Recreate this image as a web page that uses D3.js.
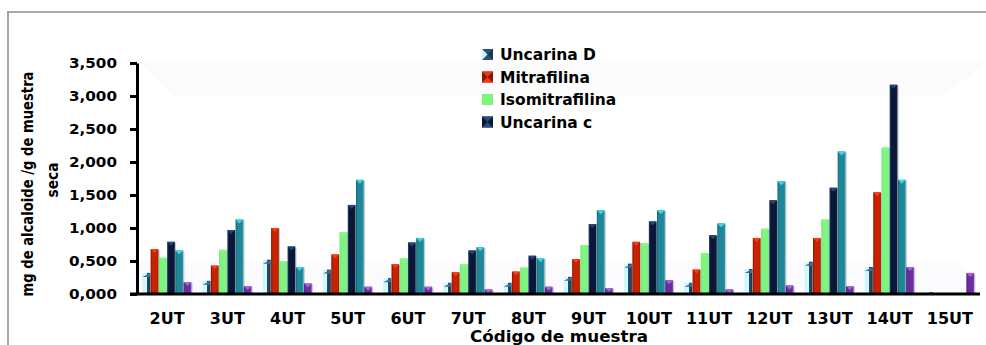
<!DOCTYPE html>
<html>
<head>
<meta charset="utf-8">
<script src="https://cdn.jsdelivr.net/npm/d3@7/dist/d3.min.js"></script>
<style>
  html, body { margin: 0; padding: 0; background: #fff; }
  svg { display: block; }
  text { font-family: "DejaVu Sans", Verdana, sans-serif; font-weight: bold; fill: #000; }
</style>
</head>
<body>
<svg id="chart" width="986" height="345"></svg>
<script>
// Sample codes
const categories = ["2UT","3UT","4UT","5UT","6UT","7UT","8UT","9UT","10UT","11UT","12UT","13UT","14UT","15UT"];

// mg of alkaloid per g of dry sample
const uncarinaD      = [0.32,0.20,0.52,0.37,0.24,0.17,0.17,0.26,0.46,0.17,0.38,0.49,0.41,0.03];
const mitrafilina    = [0.68,0.43,1.00,0.60,0.45,0.33,0.34,0.53,0.79,0.37,0.85,0.85,1.54,0];
const isomitrafilina = [0.55,0.67,0.50,0.94,0.54,0.45,0.40,0.74,0.77,0.62,0.99,1.13,2.22,0];
const uncarinaC      = [0.79,0.97,0.72,1.35,0.78,0.66,0.58,1.06,1.10,0.89,1.42,1.61,3.17,0];
const serie5         = [0.66,1.13,0.41,1.73,0.85,0.71,0.54,1.27,1.27,1.07,1.71,2.16,1.73,0];
const serie6         = [0.18,0.12,0.16,0.11,0.11,0.07,0.11,0.09,0.21,0.07,0.13,0.12,0.41,0.32];

const seriesNames = ["Uncarina D","Mitrafilina","Isomitrafilina","Uncarina c","Serie 5","Serie 6"];
const seriesValues = [uncarinaD, mitrafilina, isomitrafilina, uncarinaC, serie5, serie6];
const legendNames = ["Uncarina D","Mitrafilina","Isomitrafilina","Uncarina c"];

const yTicks = [0, 0.5, 1, 1.5, 2, 2.5, 3, 3.5];

// body gradient stops (left edge, body, right edge) and cap colour for each series
const styles = [
  { stops: ["#c6f8fc", "#d2fcff", "#1d3650"], cap: "#3e6d98" },
  { stops: ["#7e1200", "#c82200", "#a01a00"], cap: "#ff3a10" },
  { stops: ["#72ea72", "#7ef57e", "#7af27a"], cap: "#86f886" },
  { stops: ["#24447a", "#0a1736", "#0e1e44"], cap: "#24467a" },
  { stops: ["#14606c", "#1f8898", "#2c9cac"], cap: "#3ad8ec" },
  { stops: ["#55207e", "#6c2c9e", "#8447ba"], cap: "#a066d8" }
];

const svg = d3.select("#chart");
const defs = svg.append("defs");

styles.forEach((s, i) => {
  const g = defs.append("linearGradient").attr("id", "grad" + i)
    .attr("x1", "0%").attr("x2", "100%").attr("y1", "0%").attr("y2", "0%");
  if (i === 0) {
    // pale front face with a dark side face
    g.append("stop").attr("offset", "0%").attr("stop-color", s.stops[0]);
    g.append("stop").attr("offset", "55%").attr("stop-color", s.stops[1]);
    g.append("stop").attr("offset", "56%").attr("stop-color", "#2c4c6c");
    g.append("stop").attr("offset", "100%").attr("stop-color", s.stops[2]);
  } else {
    g.append("stop").attr("offset", "0%").attr("stop-color", s.stops[0]);
    g.append("stop").attr("offset", "22%").attr("stop-color", s.stops[1]);
    g.append("stop").attr("offset", "80%").attr("stop-color", s.stops[1]);
    g.append("stop").attr("offset", "100%").attr("stop-color", s.stops[2]);
  }
});

// Outer frame (top and left edges)
svg.append("line").attr("x1", 7).attr("x2", 986).attr("y1", 12).attr("y2", 12)
  .attr("stroke", "#8c8c8c").attr("stroke-width", 1.5);
svg.append("line").attr("x1", 8).attr("x2", 8).attr("y1", 12).attr("y2", 345)
  .attr("stroke", "#8c8c8c").attr("stroke-width", 1.5);

const plot = { left: 137, right: 980, top: 63, bottom: 294 };

const x0 = d3.scaleBand().domain(categories)
  .range([plot.left, plot.right]).paddingInner(0.18).paddingOuter(0.09);
const x1 = d3.scaleBand().domain(d3.range(seriesNames.length))
  .range([0, x0.bandwidth()]);
const y = d3.scaleLinear().domain([0, 3.5]).range([plot.bottom, plot.top]);

// faint back wall / floor shading
svg.append("polygon")
  .attr("points", [[140, y(3.5)], [985, y(3.5)], [943, y(3.0)], [173, y(3.0)]].join(" "))
  .attr("fill", "#fbfbfb");
svg.append("polygon")
  .attr("points", [[plot.left, y(0.5)], [960, y(0.5)], [plot.right, y(0)], [plot.left, y(0)]].join(" "))
  .attr("fill", "#fbfbfd");

// Bars
const groups = svg.append("g").selectAll("g")
  .data(categories).join("g")
  .attr("transform", d => `translate(${x0(d)},0)`);

const barData = ci => seriesValues.map((vals, si) => ({ si, v: vals[ci] })).filter(d => d.v > 0);

groups.each(function (cat, ci) {
  const g = d3.select(this);
  const bars = barData(ci);
  const w = x1.bandwidth();
  // soft grey outline to the right of each bar
  g.selectAll("rect.shadow").data(bars).join("rect")
    .attr("class", "shadow")
    .attr("x", d => x1(d.si) + 0.8)
    .attr("y", d => y(d.v) + 0.8)
    .attr("width", w)
    .attr("height", d => y(0) - y(d.v) - 0.8)
    .attr("fill", "#c9c9d4");
  g.selectAll("rect.bar").data(bars).join("rect")
    .attr("class", "bar")
    .attr("x", d => x1(d.si))
    .attr("y", d => y(d.v))
    .attr("width", w - 0.5)
    .attr("height", d => y(0) - y(d.v))
    .attr("fill", d => `url(#grad${d.si})`);
  g.selectAll("path.cap").data(bars).join("path")
    .attr("class", "cap")
    .attr("d", d => {
      const bx = x1(d.si), by = y(d.v), cw = w - 0.5;
      const h = Math.min(4, y(0) - by);
      if (d.si === 0) return `M${bx},${by + h}L${bx + cw},${by}L${bx + cw},${by + h}Z`;
      return `M${bx},${by}L${bx + cw},${by}L${bx + cw / 2},${by + h}Z`;
    })
    .attr("fill", d => styles[d.si].cap);
});

// Y axis
const fmt = d3.formatLocale({ decimal: ",", thousands: ".", grouping: [3], currency: ["", ""] }).format(".3f");
const yAxis = svg.append("g")
  .attr("transform", `translate(${plot.left},0)`)
  .call(d3.axisLeft(y).tickValues(yTicks).tickFormat(fmt).tickSize(7).tickSizeOuter(0).tickPadding(13));
yAxis.select(".domain").attr("stroke", "#000").attr("stroke-width", 3);
yAxis.selectAll(".tick line").attr("stroke", "#000").attr("stroke-width", 3);
yAxis.selectAll(".tick text")
  .style("font-size", "14px")
  .attr("textLength", 48).attr("lengthAdjust", "spacingAndGlyphs");

// X axis
const xAxis = svg.append("g")
  .attr("transform", `translate(0,${plot.bottom})`)
  .call(d3.axisBottom(x0).tickSize(0).tickPadding(19));
xAxis.select(".domain").remove();
svg.append("line")
  .attr("x1", plot.left - 7).attr("x2", plot.right)
  .attr("y1", plot.bottom).attr("y2", plot.bottom)
  .attr("stroke", "#000").attr("stroke-width", 3);
xAxis.selectAll(".tick text").style("font-size", "16px");

// Axis titles
svg.append("text")
  .attr("x", 559).attr("y", 342)
  .attr("text-anchor", "middle")
  .style("font-size", "15.5px")
  .attr("textLength", 178).attr("lengthAdjust", "spacingAndGlyphs")
  .text("Código de muestra");

const yTitle = svg.append("g");
yTitle.append("text")
  .attr("transform", "translate(33,184) rotate(-90)")
  .attr("text-anchor", "middle")
  .style("font-size", "16.5px")
  .attr("textLength", 225).attr("lengthAdjust", "spacingAndGlyphs")
  .text("mg de alcaloide /g de muestra");
yTitle.append("text")
  .attr("transform", "translate(58,180) rotate(-90)")
  .attr("text-anchor", "middle")
  .style("font-size", "16.5px")
  .attr("textLength", 35).attr("lengthAdjust", "spacingAndGlyphs")
  .text("seca");

// Legend
const legend = svg.append("g").attr("transform", "translate(482,49)");
const rowH = 22.5;
legendNames.forEach((name, i) => {
  const row = legend.append("g").attr("transform", `translate(0,${i * rowH})`);
  const sz = 11;
  if (i === 2) {
    row.append("rect").attr("width", sz).attr("height", sz).attr("fill", "#7ef57e");
  } else {
    const edge = i === 0 ? "#2c5278" : (i === 1 ? "#8a1600" : "#0a1736");
    const face = i === 0 ? "#c8fafd" : (i === 1 ? "#e83a10" : "#2a4c80");
    row.append("rect").attr("width", sz).attr("height", sz).attr("fill", edge);
    row.append("path")
      .attr("d", i === 0
        ? `M0,0L${sz / 2},${sz / 2}L0,${sz}Z`
        : `M0,0L${sz / 2},${sz / 2}L${sz},0Z M0,${sz}L${sz / 2},${sz / 2}L${sz},${sz}Z`)
      .attr("fill", face);
    if (i === 0) row.append("path").attr("d", `M${sz},0L${sz / 2},${sz / 2}L${sz},${sz}Z`).attr("fill", "#1d3650");
  }
  row.append("text")
    .attr("x", 18).attr("y", sz / 2 + 5.5)
    .style("font-size", "15.5px")
    .text(name);
});
</script>
</body>
</html>
